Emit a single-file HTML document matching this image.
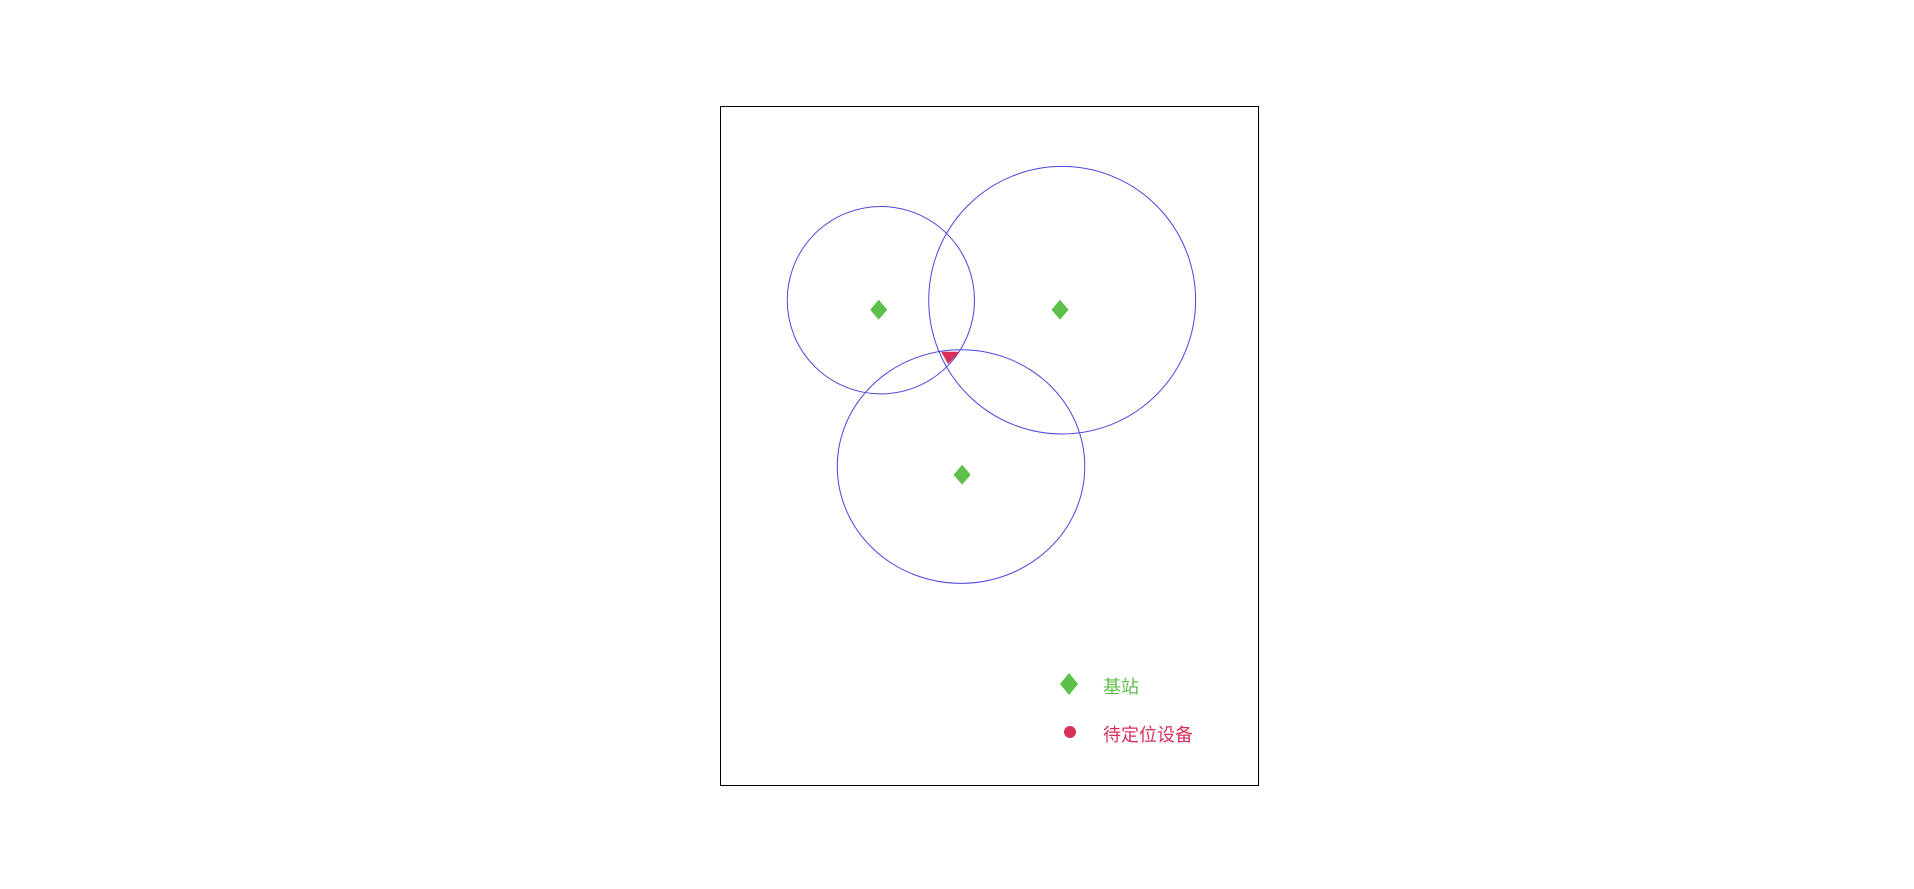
<!DOCTYPE html>
<html><head><meta charset="utf-8"><style>
html,body{margin:0;padding:0;background:#fff;width:1914px;height:889px;overflow:hidden}
svg{display:block}
text{font-family:"Liberation Sans","Noto Sans CJK SC",sans-serif;font-size:18px}
</style></head><body>
<svg id="chart" width="1914" height="889" xmlns="http://www.w3.org/2000/svg">
<rect x="720.5" y="106.5" width="538" height="679" fill="none" stroke="#000" stroke-width="1"/>
<g id="marks"></g>
<g>
<polygon points="1069,673 1078,684 1069,695 1060,684" fill="#5dc04a"/>
<text x="1103" y="693" fill="#5dc04a">基站</text>
<circle cx="1070" cy="732" r="6" fill="#d9305a"/>
<text x="1103" y="741" fill="#d9305a">待定位设备</text>
</g>
</svg>
<script>
const circleX=[29.9,63.6,44.8];
const circleY=[71.4,71.4,46.9];
const radiusX=[17.4,24.8,23.0];
const radiusY=[13.8,19.7,17.2];
const stationX=[29.5,63.2,45.0];
const stationY=[70.0,70.0,45.7];
const regionX=[41.1,44.6,42.4];
const regionY=[63.8,63.8,62.0];

const X0=720,X1=1258,Y0=785,Y1=106;
function sx(v){return X0+v/100*(X1-X0);}
function sy(v){return Y0-v/100*(Y0-Y1);}
function kx(v){return v/100*(X1-X0);}
function ky(v){return v/100*(Y0-Y1);}
const NS="http://www.w3.org/2000/svg";
const g=document.getElementById('marks');
for(let i=0;i<circleX.length;i++){
  const e=document.createElementNS(NS,'ellipse');
  
  
  e.setAttribute('cx',sx(circleX[i]));e.setAttribute('cy',sy(circleY[i]));
  e.setAttribute('rx',kx(radiusX[i]));e.setAttribute('ry',ky(radiusY[i]));
  e.setAttribute('fill','none');e.setAttribute('stroke','#4848dc');e.setAttribute('stroke-width','1');
  g.appendChild(e);
}
const tri=document.createElementNS(NS,'polygon');


tri.setAttribute('points',regionX.map((v,i)=>sx(v)+','+sy(regionY[i])).join(' '));
tri.setAttribute('fill','#d9305a');
g.appendChild(tri);
for(let i=0;i<stationX.length;i++){
  const x=sx(stationX[i]),y=sy(stationY[i]);
  const p=document.createElementNS(NS,'polygon');
  
  
  p.setAttribute('points',`${x},${y-10} ${x+8.5},${y} ${x},${y+10} ${x-8.5},${y}`);
  p.setAttribute('fill','#5dc04a');
  g.appendChild(p);
}
</script>
</body></html>
